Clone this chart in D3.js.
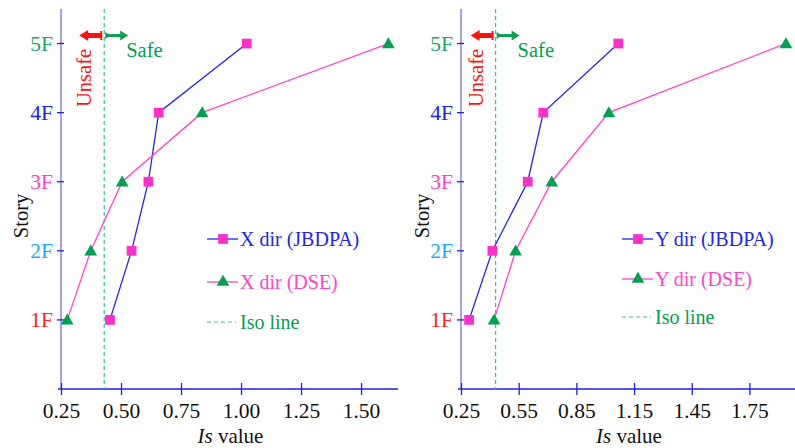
<!DOCTYPE html>
<html>
<head>
<meta charset="utf-8">
<script src="https://cdn.jsdelivr.net/npm/d3@7"></script>
<style>
  body { margin: 0; background: #fff; }
  svg text { font-family: "Liberation Serif", "Times New Roman", serif; }
</style>
</head>
<body>
<div id="canvas"></div>
<script>
// story levels and labels
const stories = [1, 2, 3, 4, 5];
const storyLabels = ["1F", "2F", "3F", "4F", "5F"];
const storyColors = ["#ff2020", "#20a8f0", "#ff40cc", "#2020ee", "#20a860"];

// Is values, X direction (left panel)
const xJBDPA = [0.454, 0.544, 0.614, 0.657, 1.024];
const xDSE = [0.276, 0.374, 0.505, 0.838, 1.614];
// Is values, Y direction (right panel)
const yJBDPA = [0.292, 0.413, 0.597, 0.678, 1.068];
const yDSE = [0.422, 0.534, 0.722, 1.019, 1.94];

const isoValue = 0.43;
const xTicksLeft = [0.25, 0.50, 0.75, 1.00, 1.25, 1.50];
const xTicksRight = [0.25, 0.55, 0.85, 1.15, 1.45, 1.75];

const blue = "#2424f0";
const pink = "#ff44cc";
const green = "#00a050";
const isoColor = "#30c890";

const svg = d3.select("#canvas").append("svg")
    .attr("width", 795)
    .attr("height", 448);

function drawPanel(opts) {
    const g = svg.append("g");
    const x = d3.scaleLinear().domain(opts.xDomain).range(opts.xRange);
    const y = d3.scaleLinear().domain([0, 5.5]).range([389, 9]);

    // y axis line
    g.append("line")
        .attr("x1", x(0.25)).attr("x2", x(0.25))
        .attr("y1", y(5.5)).attr("y2", y(0))
        .attr("stroke", "#8080ff").attr("stroke-width", 1.5);

    // y ticks
    g.selectAll(".ytick").data(stories).enter().append("line")
        .attr("x1", x(0.25) - 4).attr("x2", x(0.25) + 3)
        .attr("y1", d => y(d)).attr("y2", d => y(d))
        .attr("stroke", "#2020e0").attr("stroke-width", 1.3);
    g.selectAll(".ylab").data(stories).enter().append("text")
        .attr("x", x(0.25) - 8)
        .attr("y", d => y(d) + 7.5)
        .attr("text-anchor", "end")
        .attr("font-size", 21.5)
        .attr("fill", (d, i) => storyColors[i])
        .text((d, i) => storyLabels[i]);

    // x axis
    const xAxis = g.append("g")
        .attr("transform", "translate(0," + y(0) + ")")
        .call(d3.axisBottom(x).tickValues(opts.xTicks).tickSize(6).tickFormat(d3.format(".2f")));
    xAxis.select(".domain")
        .attr("d", "M" + (x(0.25) - 3) + ",0H" + opts.xRange[1])
        .attr("stroke", "#2020e0").attr("stroke-width", 1.5);
    xAxis.selectAll(".tick line")
        .attr("y1", -6).attr("y2", 6)
        .attr("stroke", "#2020e0").attr("stroke-width", 1.3);
    xAxis.selectAll(".tick text")
        .attr("y", 14)
        .attr("font-size", 21.5)
        .attr("fill", "#111")
        .attr("font-family", "Liberation Serif");

    // axis titles
    g.append("text")
        .attr("transform", "translate(" + opts.storyX + ",216) rotate(-90)")
        .attr("text-anchor", "middle")
        .attr("font-size", 20.5)
        .attr("fill", "#111")
        .text("Story");
    const xt = g.append("text")
        .attr("x", (x(0.25) + opts.xRange[1]) / 2 + 1)
        .attr("y", 443)
        .attr("text-anchor", "middle")
        .attr("font-size", 21)
        .attr("fill", "#111");
    xt.append("tspan").attr("font-style", "italic").text("Is");
    xt.append("tspan").text(" value");

    // iso line
    g.append("line")
        .attr("x1", x(isoValue)).attr("x2", x(isoValue))
        .attr("y1", y(5.5)).attr("y2", y(0))
        .attr("stroke", isoColor).attr("stroke-width", 1.2)
        .attr("stroke-dasharray", "4,3");

    // arrows
    const ax = x(isoValue);
    const ay = 35.5;
    g.append("path")
        .attr("d", `M${ax - 3},${ay - 2.5}H${ax - 16}V${ay - 5.5}L${ax - 25},${ay}L${ax - 16},${ay + 5.5}V${ay + 2.5}H${ax - 3}Z`)
        .attr("fill", "#ff1010");
    g.append("rect")
        .attr("x", ax - 4).attr("y", ay - 4.5).attr("width", 2).attr("height", 9)
        .attr("fill", "#ff1010");
    g.append("path")
        .attr("d", `M${ax + 1},${ay - 3.5}L${ax + 4},${ay - 1.5}H${ax + 16}V${ay - 5}L${ax + 24},${ay}L${ax + 16},${ay + 5}V${ay + 1.5}H${ax + 4}L${ax + 1},${ay + 3.5}Z`)
        .attr("fill", "#10a050");
    g.append("text")
        .attr("x", ax + 22).attr("y", 57)
        .attr("font-size", 20.5)
        .attr("fill", green)
        .text("Safe");
    g.append("text")
        .attr("transform", "translate(" + (ax - 13) + ",107) rotate(-90)")
        .attr("font-size", 20.5)
        .attr("fill", "#ff1010")
        .text("Unsafe");

    // series
    const line = d3.line().x(d => x(d[0])).y(d => y(d[1]));
    const jb = opts.jb.map((v, i) => [v, stories[i]]);
    const ds = opts.ds.map((v, i) => [v, stories[i]]);

    g.append("path").datum(jb).attr("d", line)
        .attr("fill", "none").attr("stroke", blue).attr("stroke-width", 1.3);
    g.append("path").datum(ds).attr("d", line)
        .attr("fill", "none").attr("stroke", pink).attr("stroke-width", 1.3);

    g.selectAll(".sq").data(jb).enter().append("path")
        .attr("transform", d => "translate(" + x(d[0]) + "," + y(d[1]) + ")")
        .attr("d", d3.symbol().type(d3.symbolSquare).size(95)())
        .attr("fill", "#ff30c8");
    g.selectAll(".tri").data(ds).enter().append("path")
        .attr("transform", d => "translate(" + x(d[0]) + "," + (y(d[1]) + 1) + ")")
        .attr("d", d3.symbol().type(d3.symbolTriangle).size(70)())
        .attr("fill", "#00a050");

    // legend
    const lx = opts.legendX;
    const rows = opts.legendY;
    g.append("line").attr("x1", lx).attr("x2", lx + 31)
        .attr("y1", rows[0]).attr("y2", rows[0])
        .attr("stroke", blue).attr("stroke-width", 1.3);
    g.append("path")
        .attr("transform", "translate(" + (lx + 16) + "," + rows[0] + ")")
        .attr("d", d3.symbol().type(d3.symbolSquare).size(95)())
        .attr("fill", "#ff30c8");
    g.append("line").attr("x1", lx).attr("x2", lx + 31)
        .attr("y1", rows[1]).attr("y2", rows[1])
        .attr("stroke", pink).attr("stroke-width", 1.3);
    g.append("path")
        .attr("transform", "translate(" + (lx + 16) + "," + rows[1] + ")")
        .attr("d", d3.symbol().type(d3.symbolTriangle).size(70)())
        .attr("fill", "#00a050");
    g.append("line").attr("x1", lx).attr("x2", lx + 29)
        .attr("y1", rows[2]).attr("y2", rows[2])
        .attr("stroke", isoColor).attr("stroke-width", 1.2)
        .attr("stroke-dasharray", "4,3");

    const texts = [opts.name + " dir (JBDPA)", opts.name + " dir (DSE)", "Iso line"];
    const tcol = [blue, pink, green];
    g.selectAll(".leg").data(texts).enter().append("text")
        .attr("x", lx + 33)
        .attr("y", (d, i) => rows[i] + 7)
        .attr("font-size", 20)
        .attr("fill", (d, i) => tcol[i])
        .text(d => d);
}

drawPanel({
    xDomain: [0.25, 1.654], xRange: [61, 398], xTicks: xTicksLeft,
    jb: xJBDPA, ds: xDSE, name: "X",
    legendX: 207, legendY: [239, 282, 322], storyX: 28
});
drawPanel({
    xDomain: [0.25, 1.987], xRange: [461, 795], xTicks: xTicksRight,
    jb: yJBDPA, ds: yDSE, name: "Y",
    legendX: 622, legendY: [239, 279, 317], storyX: 429
});
</script>
</body>
</html>
